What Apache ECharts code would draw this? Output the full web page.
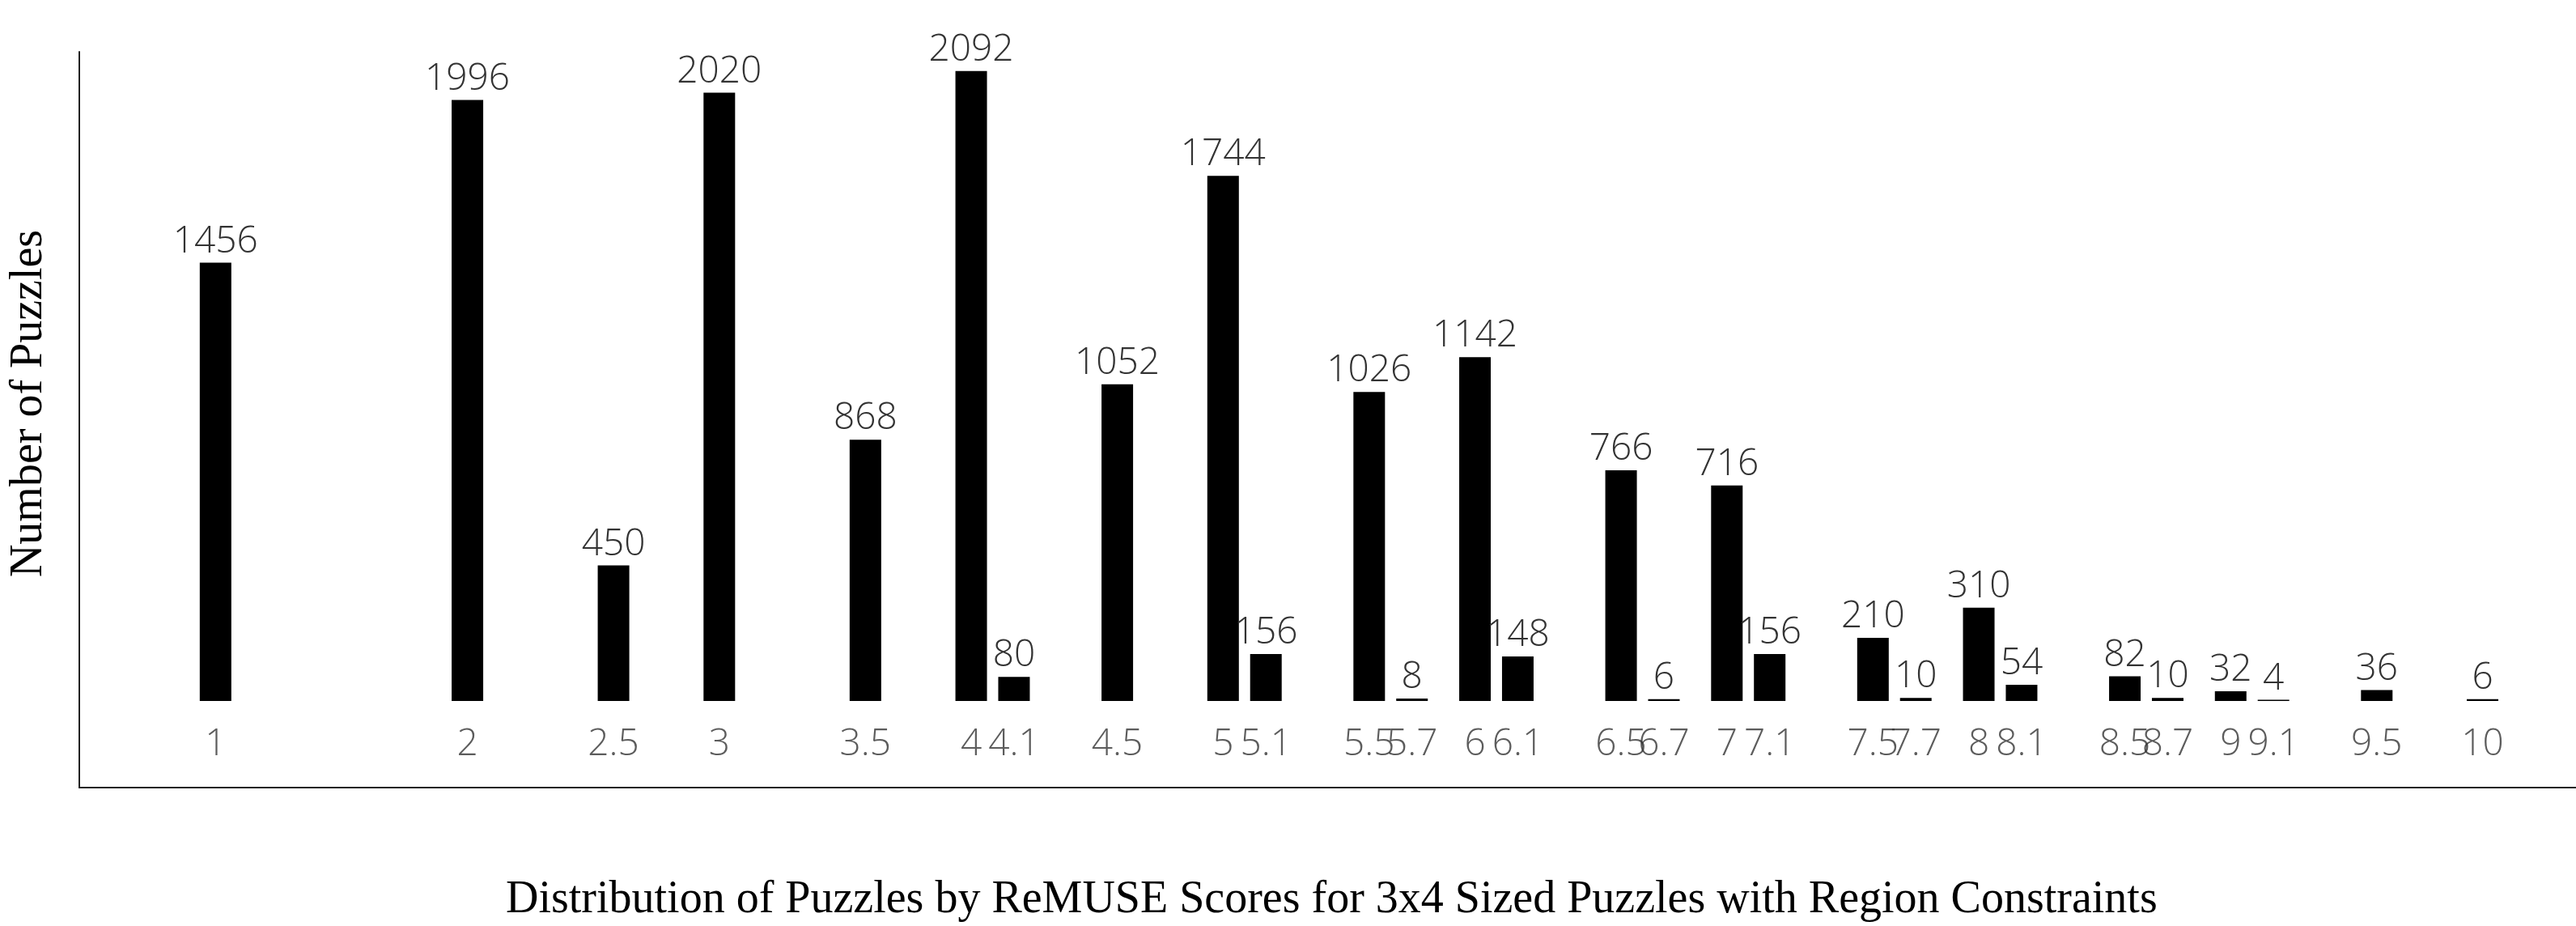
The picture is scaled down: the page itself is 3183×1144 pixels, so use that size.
<!DOCTYPE html>
<html>
<head>
<meta charset="utf-8">
<style>
  html, body { margin: 0; padding: 0; background: #ffffff; }
  #chart { width: 3183px; height: 1144px; }
</style>
<script src="https://cdn.jsdelivr.net/npm/echarts@6/dist/echarts.min.js"></script>
</head>
<body>
<div id="chart"></div>
<script>
// Score positions (bar centres on the score axis)
const scores = [1, 2, 2.58, 3, 3.58, 4, 4.17, 4.58, 5, 5.17, 5.58, 5.75, 6, 6.17, 6.58, 6.75, 7, 7.17, 7.58, 7.75, 8, 8.17, 8.58, 8.75, 9, 9.17, 9.58, 10];
// Score labels as printed under each bar
const scoreLabels = ['1', '2', '2.5', '3', '3.5', '4', '4.1', '4.5', '5', '5.1', '5.5', '5.7', '6', '6.1', '6.5', '6.7', '7', '7.1', '7.5', '7.7', '8', '8.1', '8.5', '8.7', '9', '9.1', '9.5', '10'];
// Number of puzzles per score
const counts = [1456, 1996, 450, 2020, 868, 2092, 80, 1052, 1744, 156, 1026, 8, 1142, 148, 766, 6, 716, 156, 210, 10, 310, 54, 82, 10, 32, 4, 36, 6];

const titleText = 'Distribution of Puzzles by ReMUSE Scores for 3x4 Sized Puzzles with Region Constraints';
const yName = 'Number of Puzzles';

const barData = scores.map((s, i) => [s, counts[i]]);
const labelData = scores.map((s) => [s, 0]);

const chart = echarts.init(document.getElementById('chart'), null, { renderer: 'canvas' });
chart.setOption({
  backgroundColor: '#ffffff',
  animation: false,
  title: {
    text: titleText,
    left: 625,
    top: 1084,
    padding: 0,
    textStyle: {
      fontFamily: '"Liberation Serif", "Times New Roman", serif',
      fontSize: 56,
      fontWeight: 'normal',
      color: '#000000'
    }
  },
  grid: { left: 95, right: 0, top: 64, bottom: 171, containLabel: false },
  xAxis: {
    type: 'value',
    min: 0.4592,
    max: 10.371,
    axisLine: { show: true, onZero: false, lineStyle: { color: '#222222', width: 2 } },
    axisTick: { show: false },
    axisLabel: { show: false },
    splitLine: { show: false }
  },
  yAxis: {
    type: 'value',
    min: -287.6,
    max: 2156,
    name: yName,
    nameLocation: 'middle',
    nameGap: 34,
    nameTextStyle: {
      fontFamily: '"Liberation Serif", "Times New Roman", serif',
      fontSize: 56,
      color: '#000000',
      padding: [0, 0, 0, 40]
    },
    axisLine: { show: true, onZero: false, lineStyle: { color: '#222222', width: 2 } },
    axisTick: { show: false },
    axisLabel: { show: false },
    splitLine: { show: false }
  },
  series: [
    {
      type: 'bar',
      data: barData,
      barWidth: 39,
      itemStyle: { color: '#000000' },
      label: {
        show: true,
        position: 'top',
        distance: 3,
        fontFamily: '"Open Sans", sans-serif',
        fontSize: 46,
        fontWeight: 300,
        color: '#333333',
        formatter: (p) => String(p.value[1])
      }
    },
    {
      type: 'scatter',
      data: labelData,
      symbolSize: 0,
      itemStyle: { color: 'rgba(0,0,0,0)' },
      silent: true,
      label: {
        show: true,
        position: 'bottom',
        distance: 31,
        fontFamily: '"Open Sans", sans-serif',
        fontSize: 46,
        fontWeight: 300,
        color: '#333333',
        formatter: (p) => scoreLabels[p.dataIndex]
      }
    }
  ]
});
</script>
</body>
</html>
